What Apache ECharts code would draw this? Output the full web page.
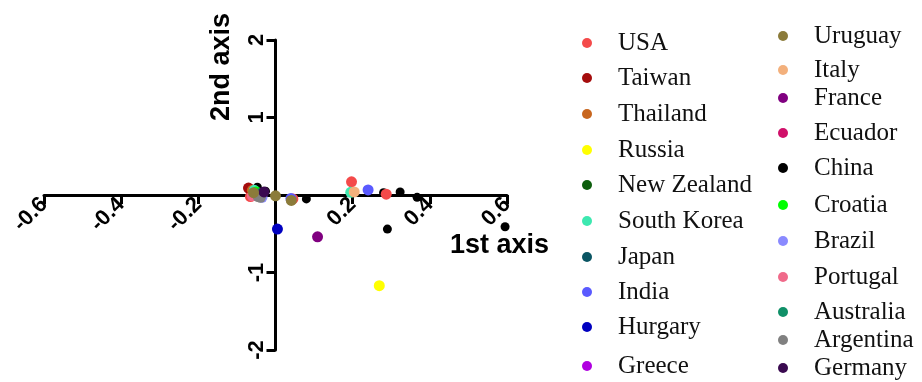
<!DOCTYPE html>
<html>
<head>
<meta charset="utf-8">
<script src="https://cdn.jsdelivr.net/npm/echarts@6/dist/echarts.min.js"></script>
<style>html,body{margin:0;padding:0;background:#fff}#c{width:922px;height:382px}</style>
</head>
<body>
<div id="c"></div>
<script>
// ---- data ----
var countries = ["USA","Taiwan","Thailand","Russia","New Zealand","South Korea","Japan","India","Hurgary","Greece",
                 "Uruguay","Italy","France","Ecuador","China","Croatia","Brazil","Portugal","Australia","Argentina","Germany"];
var colors = ["#f44a4a","#a50d0d","#c8661e","#ffff00","#0d5e0d","#3de8b0","#0a5563","#5a5aff","#0000c0","#b000e0",
              "#8b7b3a","#f3b07c","#800080","#d0106a","#000000","#00ff00","#8a8aff","#f06a8a","#109068","#808080","#3a0a50"];
var pointsUSA = [[0.197,0.17],[0.287,0.01],[-0.065,-0.02],[0.045,-0.05]];
var pointsTaiwan = [[-0.07,0.09]];
var pointsThailand = [[-0.06,0.06]];
var pointsRussia = [[0.269,-1.17]];
var pointsNewZealand = [[-0.05,0.02]];
var pointsSouthKorea = [[-0.055,0.06],[0.195,0.035]];
var pointsJapan = [[-0.045,0.03]];
var pointsIndia = [[0.24,0.065],[0.04,-0.045]];
var pointsHurgary = [[0.005,-0.44]];
var pointsGreece = [[-0.04,0.0]];
var pointsUruguay = [[-0.057,0.03],[0.0,-0.01],[0.041,-0.07]];
var pointsItaly = [[0.204,0.04]];
var pointsFrance = [[0.109,-0.54]];
var pointsEcuador = [[-0.05,0.0]];
var pointsChina = [[-0.047,0.1],[-0.026,0.05],[0.08,-0.05],[0.28,0.03],[0.323,0.04],[0.367,-0.03],[0.595,-0.41],[0.29,-0.44]];
var pointsCroatia = [[-0.05,0.04]];
var pointsBrazil = [[-0.035,-0.03]];
var pointsPortugal = [[-0.06,-0.01]];
var pointsAustralia = [[-0.04,0.02]];
var pointsArgentina = [[-0.039,-0.03],[-0.045,-0.02]];
var pointsGermany = [[-0.03,0.04]];
var allPoints = [pointsUSA,pointsTaiwan,pointsThailand,pointsRussia,pointsNewZealand,pointsSouthKorea,pointsJapan,
  pointsIndia,pointsHurgary,pointsGreece,pointsUruguay,pointsItaly,pointsFrance,pointsEcuador,pointsChina,
  pointsCroatia,pointsBrazil,pointsPortugal,pointsAustralia,pointsArgentina,pointsGermany];
var xTicks = [-0.6,-0.4,-0.2,0,0.2,0.4,0.6];
var yTicks = [-2,-1,0,1,2];
var xAxisName = "1st axis", yAxisName = "2nd axis";

// layout
var gridLeft = 44, gridTop = 40, gridW = 463, gridH = 310;
var legendPos = [
  [582,43],[582,78],[582,114],[582,150],[582,185],[582,221],[582,257],[582,292],[582,327],[582,366],
  [778,36],[778,70],[778,98],[778,133],[778,168],[778,205],[778,241],[778,277],[778,312],[778,340],[778,368]
];
var drawOrder = [14,0,1,2,3,4,5,6,7,8,9,11,12,13,15,16,17,18,19,20,10];

var xMin = xTicks[0], xMax = xTicks[xTicks.length-1];
var yMin = yTicks[0], yMax = yTicks[yTicks.length-1];
// distance of the zero lines from the grid edges
var xAxisOffset = -gridH * (0 - yMin) / (yMax - yMin);
var yAxisOffset = -gridW * (0 - xMin) / (xMax - xMin);

var chart = echarts.init(document.getElementById('c'), null, {renderer:'canvas'});
var series = drawOrder.map(function(i){
  return {
    name: countries[i], type:'scatter', data: allPoints[i],
    symbolSize: i===14 ? 9 : 11,
    itemStyle:{color:colors[i], opacity:1},
    z: 3
  };
});
var legends = countries.map(function(n,i){
  return {
    data:[n], left: legendPos[i][0], top: legendPos[i][1]-14, padding:0,
    icon:'circle', itemWidth:10, itemHeight:10, selectedMode:false,
    textStyle:{fontFamily:'Liberation Serif, Times New Roman, serif', fontSize:25, color:'#111', padding:[0,0,0,21], lineHeight:28}
  };
});
var axisFont = 'Liberation Sans, Arial, sans-serif';
chart.setOption({
  backgroundColor:'#fff',
  animation:false,
  grid:{left:gridLeft, top:gridTop, width:gridW, height:gridH},
  legend: legends,
  xAxis:{
    type:'value', min:xMin, max:xMax, interval:0.2, offset:xAxisOffset,
    splitLine:{show:false},
    axisLine:{onZero:false, lineStyle:{color:'#000', width:3}},
    axisTick:{length:9, lineStyle:{color:'#000', width:3}},
    axisLabel:{rotate:45, margin:6, color:'#000', fontWeight:'bold', fontSize:22, fontFamily:axisFont,
      formatter:function(v){ return Math.abs(v)<1e-9 ? '' : String(+v.toFixed(1)); }}
  },
  yAxis:{
    type:'value', min:yMin, max:yMax, interval:1, offset:yAxisOffset,
    splitLine:{show:false},
    axisLine:{onZero:false, lineStyle:{color:'#000', width:3}},
    axisTick:{length:9, lineStyle:{color:'#000', width:3}},
    axisLabel:{rotate:90, margin:8, color:'#000', fontWeight:'bold', fontSize:22, fontFamily:axisFont,
      formatter:function(v){ return v===0 ? '' : String(v); }}
  },
  graphic:[
    {type:'text', left:450, top:232, style:{text:xAxisName, font:'bold 27px '+axisFont, fill:'#000'}},
    {type:'text', x:222, y:67, rotation:Math.PI/2, style:{text:yAxisName, font:'bold 27px '+axisFont, fill:'#000', align:'center', verticalAlign:'middle'}}
  ],
  series: series
});
</script>
</body>
</html>
